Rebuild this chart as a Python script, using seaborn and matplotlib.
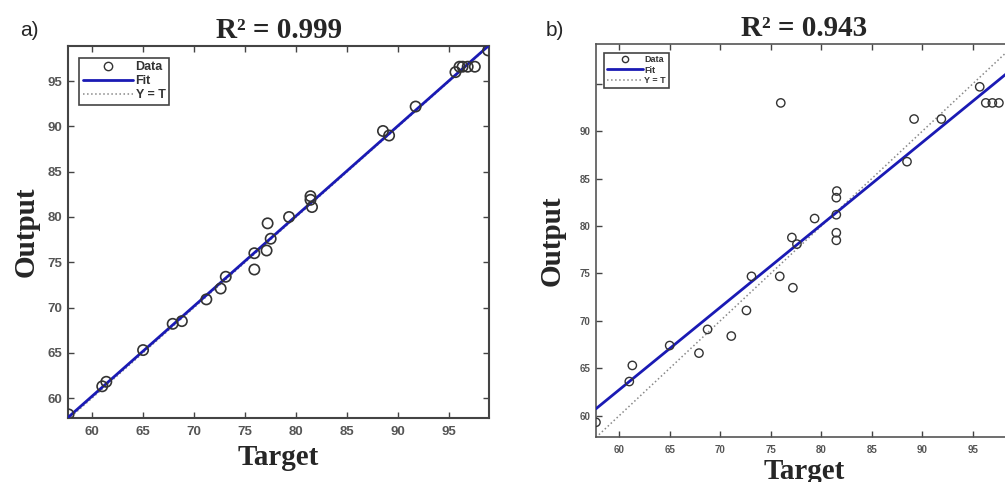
import numpy as np
import matplotlib
matplotlib.use("Agg")
import matplotlib.pyplot as plt
from matplotlib.lines import Line2D
import seaborn as sns

# values
target_a = [57.7, 61.0, 61.4, 65.0, 67.9, 68.8, 71.2, 72.6, 73.1, 75.9, 75.9, 77.1,
            77.2, 77.5, 79.3, 81.4, 81.4, 81.55, 88.5, 89.1, 91.7, 95.6, 96.0, 96.3,
            96.8, 97.5, 98.8]
output_a = [58.2, 61.3, 61.8, 65.3, 68.2, 68.5, 70.9, 72.1, 73.4, 74.2, 76.0, 76.3,
            79.3, 77.6, 80.0, 82.3, 81.9, 81.1, 89.5, 89.0, 92.2, 96.0, 96.6, 96.6,
            96.6, 96.6, 98.4]

target_b = [57.7, 61.0, 61.3, 65.0, 67.9, 68.75, 71.1, 72.6, 73.1, 75.9, 76.0, 77.1,
            77.2, 77.6, 79.35, 81.55, 81.5, 81.5, 81.5, 81.5, 88.5, 89.2, 91.9, 95.7,
            96.3, 96.95, 97.6]
output_b = [59.3, 63.6, 65.3, 67.4, 66.6, 69.1, 68.4, 71.1, 74.7, 74.7, 93.0, 78.8,
            73.5, 78.1, 80.8, 83.7, 83.0, 81.2, 79.3, 78.5, 86.8, 91.3, 91.3, 94.7,
            93.0, 93.0, 93.0]

titles = ["R² = 0.999", "R² = 0.943"]
panel_tags = ["a)", "b)"]
xticks = [60, 65, 70, 75, 80, 85, 90, 95]
yticks_a = [60, 65, 70, 75, 80, 85, 90, 95]
yticks_b = [60, 65, 70, 75, 80, 85, 90, 95]
ylabels_b = ["60", "65", "70", "75", "80", "85", "90", ""]

sns.set_style("ticks")
plt.rcParams['font.family'] = ['Liberation Sans', 'DejaVu Sans']

fig = plt.figure(figsize=(10.05, 4.82), dpi=100)
ax_a = fig.add_axes([0.0677, 0.1328, 0.419, 0.772])
ax_b = fig.add_axes([0.593, 0.0934, 0.414, 0.815])

serif = ['Liberation Serif', 'DejaVu Serif']
fit_color = '#1a1ab4'

setups = [
    (ax_a, target_a, output_a, (57.65, 98.9), (57.8, 98.9), yticks_a, None, 9.5, 55, 1.2, '#444444'),
    (ax_b, target_b, output_b, (57.7, 98.9), (57.75, 99.2), yticks_b, ylabels_b, 7, 36, 1.0, '#555555'),
]

for i, (ax, t, o, xl, yl, yt, ytl, fs, msize, mlw, spc) in enumerate(setups):
    ax.set_xlim(*xl)
    ax.set_ylim(*yl)

    # identity line
    xs = np.array(xl)
    ax.plot(xs, xs, linestyle=':', color='#888888', linewidth=1.1, zorder=2)

    # least-squares fit
    slope, intercept = np.polyfit(t, o, 1)
    ax.plot(xs, slope * xs + intercept, color=fit_color, linewidth=2.0, zorder=3)

    sns.scatterplot(x=t, y=o, ax=ax, marker='o', s=msize, facecolor='none',
                    edgecolor='#333333', linewidth=mlw, zorder=4)

    ax.set_xticks(xticks)
    ax.set_yticks(yt)
    if ytl is not None:
        ax.set_yticklabels(ytl)
    ax.tick_params(direction='in', top=True, right=True, length=4, width=1,
                   color='#444444', labelsize=fs, labelcolor='#555555')
    for lab in ax.get_xticklabels() + ax.get_yticklabels():
        lab.set_fontweight('bold')
    ax.tick_params(axis='x', pad=6)
    ax.tick_params(axis='y', pad=4)
    for sp in ax.spines.values():
        sp.set_color(spc)
        sp.set_linewidth(1.5 if i == 0 else 1.2)

    ax.set_xlabel('Target', family=serif, fontweight='bold', fontsize=21,
                  labelpad=4 if i == 0 else 2)
    ax.set_ylabel('Output', family=serif, fontweight='bold', fontsize=21,
                  labelpad=6 if i == 0 else 10)
    ax.set_title(titles[i], family=serif, fontweight='bold', fontsize=21, pad=6)

    handles = [
        Line2D([], [], marker='o', linestyle='none', markerfacecolor='none',
               markeredgecolor='#333333', markersize=6 if i == 0 else 4.5),
        Line2D([], [], color=fit_color, linewidth=2),
        Line2D([], [], color='#888888', linestyle=':', linewidth=1.1),
    ]
    leg = ax.legend(handles, ['Data', 'Fit', 'Y = T'], loc='upper left',
                    prop={'weight': 'bold', 'size': 9 if i == 0 else 6.5},
                    handlelength=4.0, handletextpad=0.2, labelspacing=0.15,
                    borderpad=0.3, fancybox=False, edgecolor='#444444',
                    framealpha=1, bbox_to_anchor=(0.012, 0.985) if i == 0 else (0.008, 0.99))
    leg.get_frame().set_linewidth(1.2)
    for txt in leg.get_texts():
        txt.set_color('#333333')

fig.text(0.02, 0.925, panel_tags[0], fontsize=15)
fig.text(0.543, 0.925, panel_tags[1], fontsize=15)

fig.savefig('out.png', dpi=100)
